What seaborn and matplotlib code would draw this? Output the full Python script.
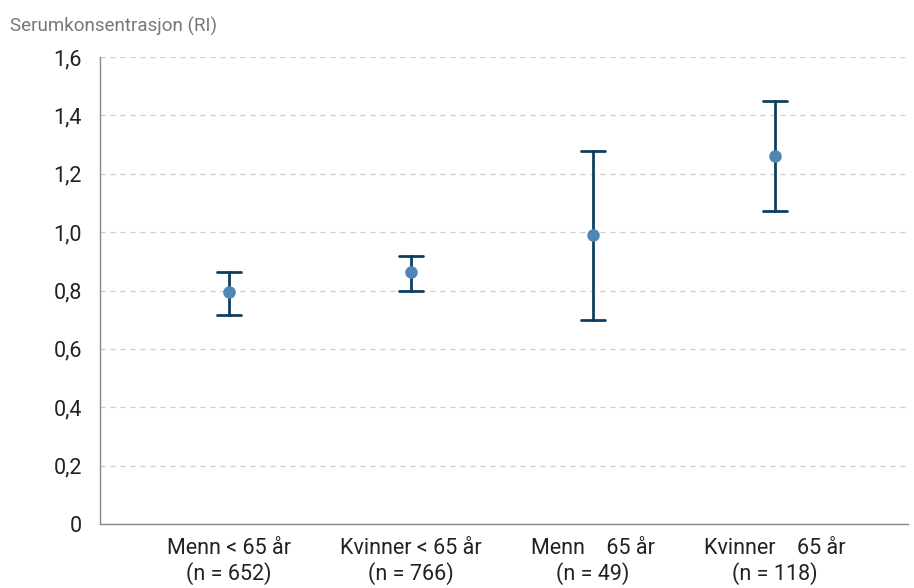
import pandas as pd
import matplotlib.pyplot as plt
import seaborn as sns
from matplotlib.ticker import FuncFormatter

# Values
groups = ['Menn < 65 år\n(n = 652)', 'Kvinner < 65 år\n(n = 766)',
          'Menn    65 år\n(n = 49)', 'Kvinner    65 år\n(n = 118)']
mean = [0.795, 0.863, 0.99, 1.261]
lower = [0.716, 0.80, 0.699, 1.072]
upper = [0.863, 0.918, 1.278, 1.449]

# Long table: median gives the mean, min/max give the interval
rows = []
for g, lo, m, hi in zip(groups, lower, mean, upper):
    for v in (lo, m, hi):
        rows.append({'gruppe': g, 'verdi': v})
df = pd.DataFrame(rows)

sns.set_style("white")
plt.rcParams['font.family'] = ['Roboto', 'DejaVu Sans']

fig = plt.figure(figsize=(9.14, 5.88), dpi=100)
ax = fig.add_axes([0.1094, 0.1088, 0.884, 0.7942])

sns.pointplot(data=df, x='gruppe', y='verdi', order=groups,
              estimator='median', errorbar=lambda v: (v.min(), v.max()),
              linestyle='none', color='#4f86b5', markersize=7,
              capsize=0.13, err_kws={'color': '#0f3f5e', 'linewidth': 2.0},
              ax=ax)
# markers above the error bars
ax.lines[0].set_zorder(5)
ax.lines[0].set_alpha(1)

ax.set_ylim(0, 1.6)
ax.set_xlim(-0.71, 3.73)
ax.set_yticks([0, 0.2, 0.4, 0.6, 0.8, 1.0, 1.2, 1.4, 1.6])
ax.yaxis.set_major_formatter(FuncFormatter(
    lambda v, p: '0' if v == 0 else f'{v:.1f}'.replace('.', ',')))
ax.grid(axis='y', linestyle=(0, (4, 4)), color='#cccccc', linewidth=0.9)
ax.set_axisbelow(True)

for s in ['top', 'right']:
    ax.spines[s].set_visible(False)
for s in ['left', 'bottom']:
    ax.spines[s].set_color('#888888')
    ax.spines[s].set_linewidth(1.0)

ax.tick_params(axis='both', direction='out', length=8, width=1.0,
               color='#888888', labelsize=15.5, labelcolor='#222222', pad=2)
ax.tick_params(axis='y', length=7, pad=6)
ax.set_xlabel('')
ax.set_ylabel('')

fig.text(0.011, 0.955, 'Serumkonsentrasjon (RI)', fontsize=13.5,
         color='#777777', ha='left', va='center')

plt.savefig('out.png', dpi=100)
